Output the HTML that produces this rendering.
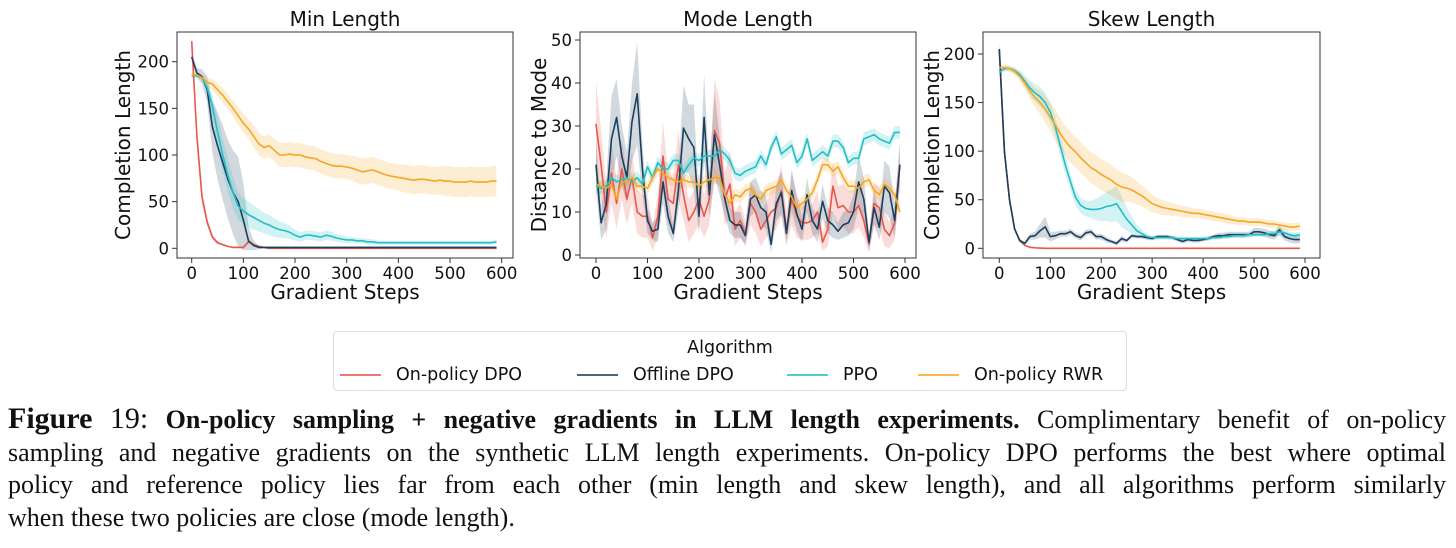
<!DOCTYPE html>
<html><head><meta charset="utf-8">
<style>
body{margin:0;width:1456px;height:548px;background:#fff;overflow:hidden;position:relative;font-family:"DejaVu Sans","Liberation Sans",sans-serif}
svg{position:absolute;left:0;top:0}
#legend{position:absolute;left:333px;top:331px;width:792px;height:58px;border:1px solid #ddd;border-radius:4px}
#legend .title{position:absolute;left:0;width:100%;top:6px;text-align:center;font-size:17.5px;color:#111}
.le{position:absolute;top:33px;font-size:17.5px;color:#111;white-space:nowrap}
.le i{display:inline-block;width:41px;height:2px;vertical-align:middle;margin-right:15px;opacity:.8}
#caption{position:absolute;left:8px;top:403px;width:1438px;font-family:"Liberation Serif",serif;font-size:26px;color:#111;line-height:32.5px}
#caption div{text-align:justify;text-align-last:justify;white-space:nowrap;overflow:visible}
#caption div.last{text-align-last:left}
#caption b.fig{font-size:30px;font-weight:bold}
</style></head><body>
<svg id="chart" width="1456" height="330"></svg>
<div id="legend">
<div class="title">Algorithm</div>
<div class="le" style="left:6px"><i style="background:#e8574b"></i>On-policy DPO</div>
<div class="le" style="left:243px"><i style="background:#1b3f5e"></i>Offline DPO</div>
<div class="le" style="left:453px"><i style="background:#22bfc4"></i>PPO</div>
<div class="le" style="left:584px"><i style="background:#f5a623"></i>On-policy RWR</div>
</div>
<div id="caption">
<div><b class="fig">Figure</b> <span style="font-size:30px">19:</span> <b>On-policy sampling + negative gradients in LLM length experiments.</b> Complimentary benefit of on-policy</div>
<div>sampling and negative gradients on the synthetic LLM length experiments. On-policy DPO performs the best where optimal</div>
<div>policy and reference policy lies far from each other (min length and skew length), and all algorithms perform similarly</div>
<div class="last">when these two policies are close (mode length).</div>
</div>
<script>
const steps = Array.from({length:60},(_, i)=>i*10);
const xTicks = [0,100,200,300,400,500,600];
const yTicksLen = [0,50,100,150,200];
const yTicksMode = [0,10,20,30,40,50];
const seriesNames = ["On-policy DPO","Offline DPO","PPO","On-policy RWR"];
// Min Length
const minRed = [222,120,55,28,12,6,4,2,1,1,1,7,4,2,1,0,0,0,0,0,0,0,0,0,0,0,0,0,0,0,0,0,0,0,0,0,0,0,0,0,0,0,0,0,0,0,0,0,0,0,0,0,0,0,0,0,0,0,0,0];
const minRedSd = [5,10,8,5,3,2,1,1,1,1,1,2,1,1,0,0,0,0,0,0,0,0,0,0,0,0,0,0,0,0,0,0,0,0,0,0,0,0,0,0,0,0,0,0,0,0,0,0,0,0,0,0,0,0,0,0,0,0,0,0];
const minNavy = [205,188,184,170,130,110,92,74,60,50,30,8,3,1,1,1,1,1,1,1,1,1,1,1,1,1,1,1,1,1,1,1,1,1,1,1,1,1,1,1,1,1,1,1,1,1,1,1,1,1,1,1,1,1,1,1,1,1,1,1];
const minNavySd = [5,5,8,14,28,36,40,42,45,48,40,15,5,2,1,1,1,1,1,1,1,1,1,1,1,1,1,1,1,1,1,1,1,1,1,1,1,1,1,1,1,1,1,1,1,1,1,1,1,1,1,1,1,1,1,1,1,1,1,1];
const minTeal = [185,185,183,172,152,125,100,78,60,45,40,36,33,30,27,25,22,20,19,17,14,12,14,14,13,12,14,13,11,10,9,9,8,8,7,7,6,6,6,6,6,6,6,6,6,6,6,6,6,6,6,6,6,6,6,6,6,6,6,7];
const minTealSd = [2,2,3,6,12,16,18,18,17,15,14,14,13,12,11,11,10,9,8,7,6,5,5,5,5,5,5,5,4,4,4,3,3,3,3,3,2,2,2,2,2,2,2,2,2,2,2,2,2,2,2,2,2,2,2,2,2,2,2,2];
const minOrange = [186,186,183,178,176,170,164,157,150,142,134,128,120,112,108,110,105,100,100,101,100,100,98,97,96,93,91,89,88,88,87,86,84,82,83,84,82,80,78,77,76,75,74,73,74,74,73,72,73,72,72,71,71,71,72,71,71,71,72,72];
const minOrangeSd = [3,3,4,5,6,7,8,8,9,10,10,11,12,12,12,12,12,13,13,13,13,13,13,13,13,13,13,13,13,13,13,13,14,14,14,14,14,14,14,14,14,15,15,15,15,15,15,15,15,16,16,16,16,16,16,16,16,16,16,17];
// Mode Length
const modeRed = [30.5,21,10,19,12,20,13,18,10,9,9,4,9,23,13,12,21,14,8,10,13,9,13,29,26,13,16.5,6,8,5,12,10,6,8,10,11,15,6,13,9,7.5,7.5,8,10,3,6,16,11,11.5,10,10,11.5,8,2.5,12,11,6,4.5,7.5,21];
const modeRedSd = [10,8,6,7,6,7,6,6,5,5,5,3,5,8,6,6,8,6,5,5,6,5,6,12,10,6,8,4,4,3,5,5,4,4,5,5,6,4,6,5,4,4,4,5,2,4,6,5,5,5,5,5,4,2,5,5,4,3,4,5];
const modeNavy = [21,7.5,12,27,32,23,18,31,37.5,20,8,5.5,6,17,9,5,15,29.5,27,25,9,32,14,28,21,13,8,7,7,4.5,13,14,11,10,2.5,12,14.5,5,15,9.5,6,14,8,6,12.5,8,7,5.5,7,7.5,10,17,13,3,11,6.5,16,14.5,8,21];
const modeNavySd = [6,4,6,10,9,7,6,9,12,6,3,2,3,5,4,2,5,10,8,10,4,10,5,10,7,4,3,3,3,2,4,4,4,4,2,4,5,2,5,4,3,4,3,3,4,3,3,2,3,3,4,6,5,2,4,3,6,6,4,5];
const modeTeal = [16,15.5,16,18,17,17.5,18,17,18,16.5,20.5,18,21.5,20,20,22,22,19,21,22.5,22,23,23,23,24.5,23.5,22,19,18.5,19.5,20,20.5,23,21,25,27.5,23.5,24.5,25.5,21.5,23,27,22,23,24,23,26.5,26.5,25,21.5,22.5,22.5,27,27.5,28,27,26.5,26,28.5,28.5];
const modeTealSd = [1.5,1.5,1.5,1.5,1.5,1.5,1.5,1.5,1.5,1.5,1.5,1.5,1.5,1.5,1.5,1.5,1.5,1.5,1.5,1.5,1.5,1.5,1.5,1.5,1.5,1.5,1.5,1.5,1.5,1.5,1.5,1.5,1.5,1.5,1.5,1.5,1.5,1.5,1.5,1.5,1.5,1.5,1.5,1.5,1.5,1.5,1.5,1.5,1.5,1.5,1.5,1.5,1.5,1.5,1.5,1.5,1.5,1.5,1.5,1.5];
const modeOrange = [16.5,16,15.5,16.5,13,17,17,18,16,16,15.5,18,20,19,18,17.5,17,17.5,17,17,16,17,17.5,18,18,14,12,14,13.5,15,15.5,14,13,15,15.5,16,17.5,15,13.5,11,12,13,14.5,17.5,21,21,19.5,20.5,18,16,16,15.5,17,17.5,15,14,16.5,15.5,14,10];
const modeOrangeSd = [1.5,1.5,1.5,1.5,1.5,1.5,1.5,1.5,1.5,1.5,1.5,1.5,1.5,1.5,1.5,1.5,1.5,1.5,1.5,1.5,1.5,1.5,1.5,1.5,1.5,1.5,1.5,1.5,1.5,1.5,1.5,1.5,1.5,1.5,1.5,1.5,1.5,1.5,1.5,1.5,1.5,1.5,1.5,1.5,1.5,1.5,1.5,1.5,1.5,1.5,1.5,1.5,1.5,1.5,1.5,1.5,1.5,1.5,1.5,1.5];
// Skew Length
const skewRed = [205,100,50,20,8,3,1,0.5,0.2,0,0,0,0,0,0,0,0,0,0,0,0,0,0,0,0,0,0,0,0,0,0,0,0,0,0,0,0,0,0,0,0,0,0,0,0,0,0,0,0,0,0,0,0,0,0,0,0,0,0,0];
const skewRedSd = [5,3,2,1,1,1,0,0,0,0,0,0,0,0,0,0,0,0,0,0,0,0,0,0,0,0,0,0,0,0,0,0,0,0,0,0,0,0,0,0,0,0,0,0,0,0,0,0,0,0,0,0,0,0,0,0,0,0,0,0];
const skewNavy = [205,100,50,20,8,5,12,13,18,22,12,13,15,15,17,13,11,16,17,12,12,9,7,5,10,8,13,12,12,11,10,12,12,12,11,9,7,9,8,8,9,10,12,13,13,14,14,14,14,14,17,17,16,14,13,19,12,10,9,9];
const skewNavySd = [6,4,3,2,2,2,3,4,7,11,5,4,3,3,3,3,3,3,3,3,3,3,2,2,3,2,2,2,2,2,2,2,2,2,2,2,2,2,2,2,2,2,2,3,3,3,3,3,3,3,4,4,4,4,4,5,4,4,4,4];
const skewTeal = [181,185,185,183,179,172,165,160,156,150,140,125,105,85,68,52,44,41,40,40,41,43,44,46,38,30,24,18,15,12,11,11,11,11,11,10,10,10,10,10,10,10,11,11,12,12,13,13,13,14,14,14,14,15,15,17,16,14,13,14];
const skewTealSd = [3,3,3,3,4,6,8,9,10,10,10,10,10,10,9,8,8,8,9,11,13,15,17,18,16,12,9,6,4,3,2,2,2,2,2,2,2,2,2,2,2,2,2,2,2,2,2,2,2,2,2,2,2,3,3,4,4,3,3,3];
const skewOrange = [186,186,185,182,177,170,162,155,150,143,135,127,118,110,104,99,93,88,83,80,76,73,70,66,63,62,60,57,54,50,46,44,42,41,40,39,38,37,36,36,35,34,33,32,31,30,29,28,28,27,27,27,26,25,25,24,23,22,22,23];
const skewOrangeSd = [3,3,3,4,5,6,8,10,12,14,15,16,16,16,16,16,16,16,16,16,16,16,16,15,15,14,13,12,11,10,9,8,8,7,7,6,6,6,5,5,5,5,5,5,5,5,4,4,4,4,4,4,4,4,4,4,4,4,4,4];

const colors = ["#e8574b","#1b3f5e","#22bfc4","#f5a623"];
const NS = "http://www.w3.org/2000/svg";
const svg = document.getElementById("chart");
function mk(tag, attrs, parent){const e=document.createElementNS(NS,tag);for(const k in attrs)e.setAttribute(k,attrs[k]);(parent||svg).appendChild(e);return e;}

const panels = [
 {key:"min", title:"Min Length", ylabel:"Completion Length", box:[177,32,513,258], x0:191.7, x600:501.7, y0v:0, y0:248.3, y1v:200, y1:61.7, yTicks:yTicksLen, ylabX:130,
  series:[[minRed,minRedSd],[minNavy,minNavySd],[minTeal,minTealSd],[minOrange,minOrangeSd]]},
 {key:"mode", title:"Mode Length", ylabel:"Distance to Mode", box:[580,32,916,258], x0:596, x600:905, y0v:0, y0:255, y1v:50, y1:40, yTicks:yTicksMode, ylabX:546,
  series:[[modeRed,modeRedSd],[modeNavy,modeNavySd],[modeTeal,modeTealSd],[modeOrange,modeOrangeSd]]},
 {key:"skew", title:"Skew Length", ylabel:"Completion Length", box:[983,32,1320,258], x0:999.3, x600:1305, y0v:0, y0:248.3, y1v:200, y1:54, yTicks:yTicksLen, ylabX:939,
  series:[[skewRed,skewRedSd],[skewNavy,skewNavySd],[skewTeal,skewTealSd],[skewOrange,skewOrangeSd]]}
];

panels.forEach(p=>{
  const g = mk("g",{});
  
  
  const xs = v => p.x0 + (p.x600-p.x0)*v/600;
  const ys = v => p.y0 + (p.y1-p.y0)*(v-p.y0v)/(p.y1v-p.y0v);
  const [L,T,R,B] = p.box;
  p.series.forEach((s,si)=>{
    const [m,sd]=s;
    const up = steps.map((x,i)=>xs(x).toFixed(1)+","+ys(m[i]+sd[i]).toFixed(1));
    const lo = steps.map((x,i)=>xs(x).toFixed(1)+","+ys(Math.max(m[i]-sd[i], p.key==="mode"?-100:-2)).toFixed(1)).reverse();
    const band = mk("polygon",{points:up.concat(lo).join(" "),fill:colors[si],"fill-opacity":0.2,stroke:"none"},g);
    
    
  });
  p.series.forEach((s,si)=>{
    const [m]=s;
    const line = mk("polyline",{points:steps.map((x,i)=>xs(x).toFixed(1)+","+ys(m[i]).toFixed(1)).join(" "),fill:"none",stroke:colors[si],"stroke-width":1.6,"stroke-linejoin":"round"},g);
    
    
  });
  const frame = mk("rect",{x:L,y:T,width:R-L,height:B-T,fill:"none",stroke:"#333","stroke-width":1},g);
  
  
  xTicks.forEach(t=>{
    const x=xs(t);
    mk("line",{x1:x,y1:B,x2:x,y2:B+5,stroke:"#333"},g);
    const tx = mk("text",{x:x,y:B+21,"text-anchor":"middle","font-size":16.5,fill:"#111"},g);
    tx.textContent=t;
    
    
  });
  p.yTicks.forEach(t=>{
    const y=ys(t);
    mk("line",{x1:L,y1:y,x2:L-5,y2:y,stroke:"#333"},g);
    const tx = mk("text",{x:L-8,y:y+6,"text-anchor":"end","font-size":16.5,fill:"#111"},g);
    tx.textContent=t;
    
    
  });
  const title = mk("text",{x:(L+R)/2,y:26,"text-anchor":"middle","font-size":20,fill:"#111"},g);
  title.textContent=p.title;
  
  
  const xl = mk("text",{x:(L+R)/2,y:299,"text-anchor":"middle","font-size":20,fill:"#111"},g);
  xl.textContent="Gradient Steps";
  
  
  const cy=(T+B)/2;
  const yl = mk("text",{x:p.ylabX,y:cy,"text-anchor":"middle","font-size":20,fill:"#111",transform:`rotate(-90 ${p.ylabX} ${cy})`},g);
  yl.textContent=p.ylabel;
  
  
});
</script>
</body></html>
